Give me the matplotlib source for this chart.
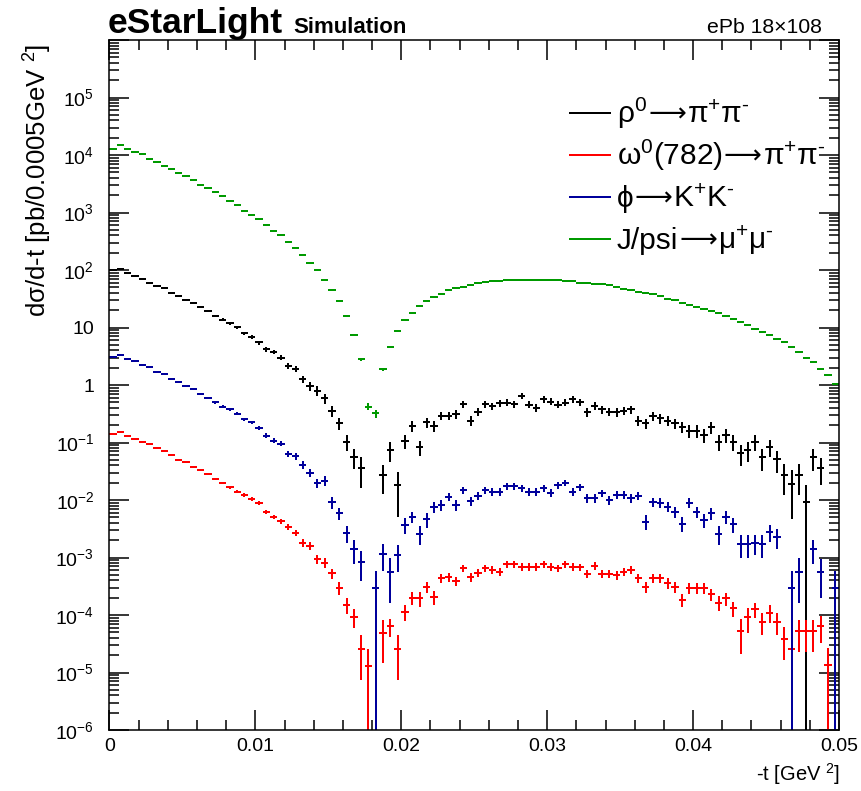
import numpy as np
import matplotlib
matplotlib.use("Agg")
import matplotlib.pyplot as plt
from matplotlib.ticker import FixedLocator, FixedFormatter, MultipleLocator, NullFormatter
from matplotlib.lines import Line2D

plt.rcParams['font.family'] = ['Liberation Sans', 'DejaVu Sans']
plt.rcParams['mathtext.fontset'] = 'custom'
plt.rcParams['mathtext.rm'] = 'Liberation Sans'
plt.rcParams['mathtext.it'] = 'Liberation Sans:italic'
plt.rcParams['mathtext.bf'] = 'Liberation Sans:bold'
plt.rcParams['mathtext.sf'] = 'Liberation Sans'

# -t binning: 100 bins of 0.0005 GeV^2 from 0 to 0.05
bin_width = 0.0005
n_bins = 100

# dsigma/d-t per bin [pb / 0.0005 GeV^2]
rho = [100, 103, 89.7, 79.6, 70.6, 60.1, 53.3, 48.1, 40.3, 35.7,
       30.1, 27.0, 22.4, 19.1, 16.0, 13.7, 11.8, 10.1, 7.9, 6.9,
       5.5, 4.2, 3.75, 2.99, 2.14, 1.90, 1.26, 0.96, 0.80, 0.59,
       0.35, 0.216, 0.103, 0.055, 0.036, 0, 0, 0.027, 0.074, 0.018,
       0.107, 0.194, 0.083, 0.224, 0.194, 0.292, 0.292, 0.309, 0.461, 0.239,
       0.343, 0.461, 0.431, 0.481, 0.492, 0.461, 0.652, 0.454, 0.403, 0.564,
       0.513, 0.454, 0.492, 0.564, 0.500, 0.335, 0.436, 0.378, 0.343, 0.335,
       0.357, 0.378, 0.239, 0.216, 0.292, 0.264, 0.239, 0.216, 0.188, 0.160,
       0.160, 0.135, 0.184, 0.103, 0.135, 0.103, 0.065, 0.074, 0.103, 0.055,
       0.083, 0.051, 0.027, 0.019, 0.027, 0.0093, 0.055, 0.036, 0, 0]

omega = [0.141, 0.150, 0.131, 0.116, 0.101, 0.094, 0.079, 0.071, 0.060, 0.050,
         0.045, 0.037, 0.033, 0.028, 0.023, 0.0198, 0.0166, 0.0139, 0.0122, 0.0104,
         0.0088, 0.0062, 0.0051, 0.0043, 0.0034, 0.0027, 0.0018, 0.0016, 0.00093, 0.00081,
         0.00053, 0.00030, 0.00015, 0.000094, 0.000026, 0.000013, 0, 0.000049, 0.000064, 0.000026,
         0.000115, 0.000200, 0.000195, 0.00031, 0.000208, 0.000435, 0.000453, 0.00039, 0.00065, 0.000453,
         0.00054, 0.00065, 0.00061, 0.00057, 0.00076, 0.00076, 0.00069, 0.00069, 0.00069, 0.00076,
         0.00069, 0.00065, 0.00076, 0.00069, 0.00068, 0.00052, 0.00072, 0.00052, 0.00052, 0.00049,
         0.00057, 0.00061, 0.000435, 0.00031, 0.000435, 0.000435, 0.00036, 0.00031, 0.000182, 0.00030,
         0.00030, 0.00030, 0.000232, 0.000164, 0.000195, 0.000131, 0.000053, 0.000091, 0.000126, 0.000076,
         0.000110, 0.000076, 0.000039, 0.000026, 0.000053, 0.000053, 0.000053, 0.000064, 0.0000135, 0]

phi = [3.10, 3.37, 2.87, 2.58, 2.25, 2.03, 1.68, 1.55, 1.25, 1.12,
       0.97, 0.84, 0.71, 0.60, 0.50, 0.42, 0.378, 0.315, 0.253, 0.223,
       0.178, 0.132, 0.108, 0.095, 0.063, 0.058, 0.041, 0.030, 0.020, 0.0217,
       0.0091, 0.0059, 0.0027, 0.0014, 0.00085, 0, 0.00029, 0.00115, 0.00057, 0.0011,
       0.0037, 0.0051, 0.0026, 0.0046, 0.0075, 0.0082, 0.0114, 0.0082, 0.0149, 0.0097,
       0.0117, 0.0149, 0.0139, 0.0139, 0.0175, 0.0175, 0.0160, 0.0139, 0.0139, 0.0160,
       0.0134, 0.0182, 0.0200, 0.0139, 0.0166, 0.0107, 0.0107, 0.0131, 0.0100, 0.0122,
       0.0122, 0.0107, 0.0117, 0.0042, 0.0093, 0.0090, 0.0076, 0.0063, 0.0039, 0.0090,
       0.0063, 0.0045, 0.0059, 0.0026, 0.0051, 0.0038, 0.0017, 0.0017, 0.0018, 0.0017,
       0.0028, 0.0023, 0, 0.00029, 0.00057, 0, 0.0014, 0.00057, 0, 0.00029]

jpsi = [1.27e4, 1.47e4, 1.27e4, 1.14e4, 1.03e4, 8.5e3, 7.6e3, 6.4e3, 5.7e3, 4.9e3,
        4.3e3, 3.7e3, 3.0e3, 2.7e3, 2.3e3, 1.94e3, 1.6e3, 1.35e3, 1.07e3, 906,
        771, 606, 482, 406, 307, 241, 182, 134, 100, 67,
        44.9, 28.6, 15.8, 7.5, 2.8, 0.42, 0.32, 1.87, 4.6, 8.8,
        13.5, 18.1, 23.9, 28.6, 34.3, 38.7, 44.9, 48.6, 51.2, 55.5,
        60.1, 61.8, 64.4, 64.4, 67.8, 67.8, 67.8, 67.8, 67.8, 67.8,
        67.5, 67.0, 65.2, 63.8, 60.6, 59.8, 57.5, 56.0, 55.0, 51.2,
        46.7, 44.4, 42.0, 39.4, 37.8, 34.9, 31.7, 29.7, 27.0, 24.9,
        23.0, 21.0, 19.4, 17.7, 15.8, 14.2, 12.5, 11.2, 9.5, 8.5,
        7.5, 6.3, 5.6, 4.6, 3.8, 3.0, 2.5, 1.9, 1.48, 1.04]

# relative statistical uncertainty per bin
rho_relerr = [0.02, 0.02, 0.02, 0.02, 0.025, 0.025, 0.03, 0.03, 0.03, 0.035,
              0.035, 0.04, 0.04, 0.045, 0.05, 0.05, 0.055, 0.06, 0.07, 0.07,
              0.08, 0.09, 0.09, 0.10, 0.12, 0.13, 0.15, 0.17, 0.18, 0.20,
              0.22, 0.25, 0.32, 0.38, 0.55, 0, 0, 0.53, 0.37, 0.72,
              0.28, 0.22, 0.30, 0.20, 0.20, 0.17, 0.17, 0.17, 0.14, 0.20,
              0.17, 0.14, 0.15, 0.14, 0.14, 0.14, 0.12, 0.14, 0.15, 0.13,
              0.14, 0.14, 0.14, 0.13, 0.14, 0.17, 0.15, 0.16, 0.17, 0.17,
              0.16, 0.16, 0.20, 0.21, 0.18, 0.19, 0.20, 0.21, 0.22, 0.24,
              0.24, 0.26, 0.23, 0.30, 0.27, 0.30, 0.40, 0.37, 0.30, 0.42,
              0.33, 0.42, 0.55, 0.75, 0.55, 1.0, 0.42, 0.50, 0, 0]

omega_relerr = [0.02, 0.02, 0.02, 0.02, 0.025, 0.025, 0.03, 0.03, 0.03, 0.035,
                0.035, 0.04, 0.04, 0.045, 0.05, 0.05, 0.055, 0.06, 0.07, 0.07,
                0.08, 0.09, 0.09, 0.10, 0.12, 0.13, 0.15, 0.17, 0.18, 0.20,
                0.20, 0.25, 0.30, 0.38, 0.71, 1.0, 0, 0.70, 0.35, 0.71,
                0.32, 0.25, 0.30, 0.22, 0.27, 0.18, 0.18, 0.18, 0.15, 0.18,
                0.16, 0.15, 0.15, 0.15, 0.14, 0.14, 0.14, 0.14, 0.14, 0.14,
                0.14, 0.15, 0.14, 0.14, 0.14, 0.17, 0.15, 0.17, 0.17, 0.17,
                0.16, 0.16, 0.18, 0.22, 0.18, 0.18, 0.20, 0.22, 0.25, 0.22,
                0.22, 0.22, 0.24, 0.28, 0.26, 0.30, 0.60, 0.46, 0.30, 0.40,
                0.35, 0.40, 0.58, 0.70, 0.57, 0.57, 0.57, 0.50, 1.0, 0]

phi_relerr = [0.02, 0.02, 0.02, 0.02, 0.025, 0.025, 0.03, 0.03, 0.03, 0.035,
              0.035, 0.04, 0.04, 0.045, 0.05, 0.05, 0.055, 0.06, 0.07, 0.07,
              0.08, 0.09, 0.09, 0.10, 0.12, 0.13, 0.15, 0.17, 0.18, 0.20,
              0.22, 0.25, 0.33, 0.45, 0.55, 0, 1.0, 0.50, 0.72, 0.49,
              0.31, 0.22, 0.36, 0.28, 0.22, 0.20, 0.17, 0.20, 0.15, 0.18,
              0.16, 0.15, 0.15, 0.15, 0.14, 0.14, 0.14, 0.15, 0.15, 0.14,
              0.15, 0.14, 0.13, 0.15, 0.14, 0.17, 0.17, 0.15, 0.17, 0.16,
              0.16, 0.17, 0.16, 0.28, 0.18, 0.18, 0.20, 0.22, 0.28, 0.18,
              0.22, 0.27, 0.24, 0.36, 0.25, 0.30, 0.42, 0.42, 0.38, 0.42,
              0.33, 0.38, 0, 1.0, 0.72, 0, 0.45, 0.66, 0, 1.0]

jpsi_relerr = [0.005] * 30 + [0.01, 0.015, 0.02, 0.03, 0.05, 0.14, 0.15, 0.06, 0.04, 0.03] + \
              [0.01] * 50 + [0.012, 0.013, 0.014, 0.015, 0.016, 0.018, 0.02, 0.022, 0.025, 0.03]

# decay labels: (parent, products)
series = [
    (rho, rho_relerr, "black", ("ρ$^{0}$", "π$^{+}$π$^{‐}$")),
    (omega, omega_relerr, "#ff0000", ("ω$^{0}$(782)", "π$^{+}$π$^{‐}$")),
    (phi, phi_relerr, "#00009c", ("ϕ", "K$^{+}$K$^{‐}$")),
    (jpsi, jpsi_relerr, "#009a00", ("J/psi", "μ$^{+}$μ$^{‐}$")),
]

W, H = 862, 791
fig = plt.figure(figsize=(W / 100, H / 100), dpi=100)
ax = fig.add_axes([109.5 / W, 61 / H, 729.5 / W, 690 / H])

centers = (np.arange(n_bins) + 0.5) * bin_width
lw = 2.0 * 72 / 100

for vals, rel, col, lab in series:
    v = np.asarray(vals, dtype=float)
    r = np.asarray(rel, dtype=float)
    m = v > 0
    err = r[m] * v[m]
    ax.errorbar(centers[m], v[m], xerr=bin_width / 2, yerr=err, fmt="none",
                ecolor=col, elinewidth=lw, capsize=0)

ax.set_yscale("log")
ax.set_xlim(0, 0.05)
ax.set_ylim(1e-6, 1e6)

# y ticks
ydec = [1e-6, 1e-5, 1e-4, 1e-3, 1e-2, 1e-1, 1, 10, 1e2, 1e3, 1e4, 1e5]
ylabels = [r"$10^{-6}$", r"$10^{-5}$", r"$10^{-4}$", r"$10^{-3}$", r"$10^{-2}$",
           r"$10^{-1}$", "1", "10", r"$10^{2}$", r"$10^{3}$", r"$10^{4}$", r"$10^{5}$"]
ax.yaxis.set_major_locator(FixedLocator(ydec + [1e6]))
ax.yaxis.set_major_formatter(FixedFormatter(ylabels + [""]))
minor_y = [m * 10.0 ** e for e in range(-6, 6) for m in range(2, 10)]
ax.yaxis.set_minor_locator(FixedLocator(minor_y))
ax.yaxis.set_minor_formatter(NullFormatter())

xt = [0, 0.01, 0.02, 0.03, 0.04, 0.05]
xtl = ["0", "0.01", "0.02", "0.03", "0.04", "0.05"]
ax.xaxis.set_major_locator(FixedLocator(xt))
ax.xaxis.set_major_formatter(FixedFormatter(xtl))
ax.xaxis.set_minor_locator(MultipleLocator(0.002))

ax.tick_params(which="both", direction="in", top=True, right=True, width=1.1, colors="black")
ax.tick_params(which="major", length=14.5, labelsize=14, pad=6)
ax.tick_params(which="minor", length=7.5)
ax.tick_params(axis="y", which="major", pad=11)
for s in ax.spines.values():
    s.set_linewidth(1.1)

# axis titles
fig.text(38 / W, 1 - 44 / H, r"dσ/d-t [pb/0.0005GeV $^{2}$]", rotation=90,
         ha="center", va="top", fontsize=18.5)
fig.text(840 / W, 1 - 781 / H, r"-t [GeV $^{2}$]", ha="right", va="baseline", fontsize=14.5)

# header
fig.text(108 / W, 1 - 33 / H, "eStarLight", fontsize=25.5, fontweight="bold", va="baseline")
fig.text(293 / W, 1 - 33 / H, "Simulation", fontsize=16, fontweight="bold", va="baseline")
fig.text(822 / W, 1 - 33 / H, "ePb 18×108", fontsize=15.3, ha="right", va="baseline")

# legend drawn in pixel space so the long entry can run past the frame
renderer = fig.canvas.get_renderer()


def put(x_px, base_px, s, **kw):
    t = fig.text(x_px / W, 1 - base_px / H, s, va="baseline", ha="left", **kw)
    return t.get_window_extent(renderer).x1


leg_y = [113, 155, 197, 239]
for (vals, rel, col, (parent, products)), yy in zip(series, leg_y):
    fig.add_artist(Line2D([570 / W, 610 / W], [1 - yy / H, 1 - yy / H],
                          color=col, linewidth=lw, transform=fig.transFigure))
    base = yy + 10
    x1 = put(617, base, parent, fontsize=21.5)
    x2 = put(x1 + 1, base - 1, "⟶", fontsize=19, family="DejaVu Sans")
    put(x2 + 1, base, products, fontsize=21.5)

fig.savefig("out.png", dpi=100)
